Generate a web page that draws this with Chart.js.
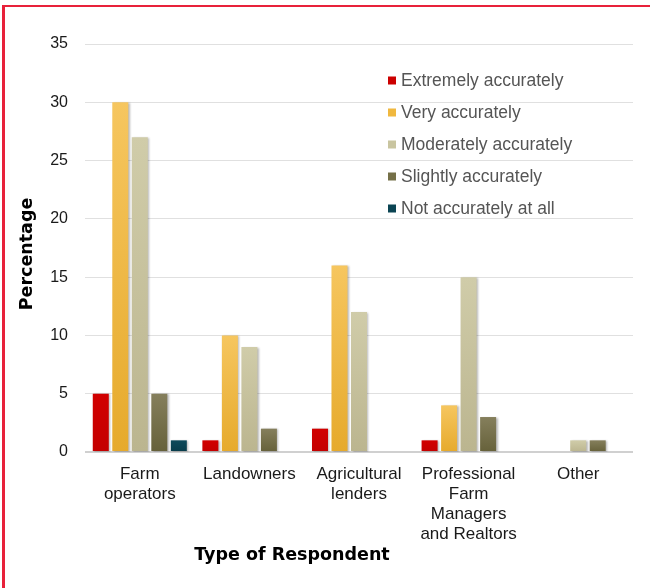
<!DOCTYPE html>
<html>
<head>
<meta charset="utf-8">
<script src="https://cdn.jsdelivr.net/npm/chart.js@4.4.1/dist/chart.umd.min.js"></script>
<style>
	body { margin: 0; background: #fff; }
	#frame { position: absolute; left: 2px; top: 5px; width: 648px; height: 583px; border-top: 2px solid #e8213a; border-left: 3px solid #e8213a; }
	#chart { position: absolute; left: 0; top: 0; }
</style>
</head>
<body>
<div id="frame"></div>
<canvas id="chart" width="650" height="588"></canvas>
<script>
// Data
const categories = [["Farm", "operators"], "Landowners", ["Agricultural", "lenders"], ["Professional", "Farm", "Managers", "and Realtors"], "Other"];
const seriesNames = ["Extremely accurately", "Very accurately", "Moderately accurately", "Slightly accurately", "Not accurately at all"];
const extremely = [5, 1, 2, 1, 0];
const very = [30, 10, 16, 4, 0];
const moderately = [27, 9, 12, 15, 1];
const slightly = [5, 2, 0, 3, 1];
const notAtAll = [1, 0, 0, 0, 0];
const yTicks = [0, 5, 10, 15, 20, 25, 30, 35];

const FONT = "'Liberation Sans', Arial, sans-serif";

// top / bottom colours of each series (gradient per bar)
const colours = [
	["#d10000", "#c40000"],
	["#f6c65f", "#e6aa2c"],
	["#d0cca9", "#bbb58f"],
	["#857f5c", "#66613a"],
	["#0e4a5b", "#083c4a"],
];
const legendColours = ["#cc0000", "#f0b83f", "#c9c5a0", "#757048", "#0b4453"];

function barFill(idx) {
	return function (ctx) {
		const chart = ctx.chart;
		if (!chart.chartArea || ctx.parsed == null) return colours[idx][1];
		const y = chart.scales.y;
		const top = y.getPixelForValue(ctx.parsed.y);
		const bottom = y.getPixelForValue(0);
		if (!isFinite(top) || bottom - top < 1) return colours[idx][1];
		const g = chart.ctx.createLinearGradient(0, top, 0, bottom);
		g.addColorStop(0, colours[idx][0]);
		g.addColorStop(1, colours[idx][1]);
		return g;
	};
}

const values = [extremely, very, moderately, slightly, notAtAll];

// legend drawn inside the plot, titles drawn at their spots
const extras = {
	id: "extras",
	beforeDatasetsDraw(chart) {
		chart.ctx.save();
		chart.ctx.shadowColor = "rgba(0,0,0,0.28)";
		chart.ctx.shadowBlur = 2;
		chart.ctx.shadowOffsetX = 1.5;
		chart.ctx.shadowOffsetY = 0.5;
	},
	afterDatasetsDraw(chart) {
		chart.ctx.restore();
	},
	afterDraw(chart) {
		const c = chart.ctx;
		c.save();
		// legend
		c.font = "17.5px " + FONT;
		c.textBaseline = "middle";
		c.textAlign = "left";
		seriesNames.forEach((name, i) => {
			const y = 80.5 + i * 32;
			c.fillStyle = legendColours[i];
			c.fillRect(388, y - 4, 8, 8);
			c.fillStyle = "#555555";
			c.fillText(name, 401, y + 1);
		});
		// axis titles
		c.fillStyle = "#000";
		c.font = "bold 17.5px 'DejaVu Sans', sans-serif";
		c.textAlign = "center";
		c.fillText("Type of Respondent", 292, 555);
		c.translate(27, 254);
		c.rotate(-Math.PI / 2);
		c.fillText("Percentage", 0, 0);
		c.restore();
	},
};

const myChart = new Chart(document.getElementById("chart"), {
	type: "bar",
	data: {
		labels: categories,
		datasets: seriesNames.map((name, i) => ({
			label: name,
			data: values[i],
			backgroundColor: barFill(i),
			borderWidth: 0,
			categoryPercentage: 0.89,
			barPercentage: 0.82,
		})),
	},
	options: {
		responsive: false,
		animation: false,
		devicePixelRatio: 1,
		layout: {
			padding: { top: 44, right: 17, left: 0, bottom: 0 },
		},
		plugins: {
			legend: { display: false },
			tooltip: { enabled: false },
		},
		scales: {
			x: {
				grid: { display: false },
				border: { display: false },
				ticks: {
					color: "#1a1a1a",
					padding: 4,
					maxRotation: 0,
					autoSkip: false,
					font: { family: FONT, size: 17, lineHeight: "20px" },
				},
				afterFit(scale) {
					scale.height = 136;
				},
			},
			y: {
				min: 0,
				max: 35,
				afterBuildTicks(scale) {
					scale.ticks = yTicks.map((v) => ({ value: v }));
				},
				border: { display: false },
				grid: {
					drawTicks: false,
					color: (ctx) => (ctx.tick && ctx.tick.value === 0 ? "#d0d0d0" : "#e0e0e0"),
					lineWidth: (ctx) => (ctx.tick && ctx.tick.value === 0 ? 2 : 1),
				},
				ticks: {
					color: "#1a1a1a",
					padding: 17,
					font: { family: FONT, size: 16 },
				},
				afterFit(scale) {
					scale.width = 85;
				},
			},
		},
	},
	plugins: [extras],
});
</script>
</body>
</html>
